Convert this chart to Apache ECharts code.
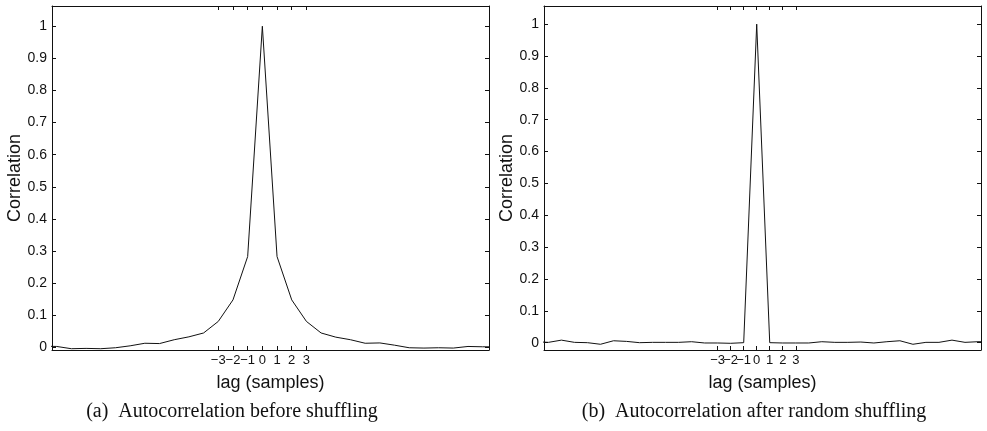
<!DOCTYPE html>
<html>
<head>
<meta charset="utf-8">
<script src="https://cdn.jsdelivr.net/npm/echarts@6/dist/echarts.min.js"></script>
<style>
  html, body { margin: 0; padding: 0; background: #fff; }
  #chart { width: 987px; height: 431px; }
</style>
</head>
<body>
<div id="chart"></div>
<script>
// (a) before shuffling
const lagsA = [-15, -14, -13, -12, -11, -10, -9, -8, -7, -6, -5, -4, -3, -2, -1, 0,
  1, 2, 3, 4, 5, 6, 7, 8, 9, 10, 11, 12, 13, 14, 15, 16]
const corrA = [0.004, 0.003, -0.004, -0.003, -0.004, -0.001, 0.005, 0.013, 0.012, 0.024, 0.033, 0.045, 0.081, 0.148, 0.283, 1,
  0.283, 0.148, 0.081, 0.045, 0.032, 0.024, 0.013, 0.014, 0.007, -0.001, -0.002, -0.001, -0.002, 0.003, 0.002, 0.002]

// (b) after random shuffling
const lagsB = [-17, -16, -15, -14, -13, -12, -11, -10, -9, -8, -7, -6, -5, -4, -3, -2, -1, 0,
  1, 2, 3, 4, 5, 6, 7, 8, 9, 10, 11, 12, 13, 14, 15, 16, 17, 18]
const corrB = [0.003, 0.001, 0.008, 0.001, 0.000, -0.005, 0.006, 0.004, 0.000, 0.001, 0.001, 0.001, 0.003, -0.001, -0.001, -0.002, 0.000, 1,
  0.000, -0.001, -0.001, -0.001, 0.003, 0.001, 0.001, 0.002, -0.001, 0.003, 0.006, -0.005, 0.001, 0.001, 0.008, 0.001, 0.003, 0.003]

const xTicks = [-3, -2, -1, 0, 1, 2, 3]
// labels are split over two axes so that crowded ones are not dropped
const xLabelsEven = [-2, 0, 2]
const xLabelsOdd = [-3, -1, 1, 3]
const yTicks = [0, 0.1, 0.2, 0.3, 0.4, 0.5, 0.6, 0.7, 0.8, 0.9, 1]

const captionA = '(a)  Autocorrelation before shuffling'
const captionB = '(b)  Autocorrelation after random shuffling'

const font = 'Liberation Sans'
const black = '#111'

function xFmt(v) {
  return v < 0 ? '\u2212' + (-v) : String(v)
}

function labelStyle(values) {
  return {
    show: !!values,
    customValues: values || [],
    formatter: xFmt,
    hideOverlap: false,
    margin: 4,
    color: black,
    fontFamily: font,
    fontSize: 13
  }
}

function makeX(gridIndex, min, max, position, labels, ticks) {
  return {
    type: 'value',
    gridIndex: gridIndex,
    position: position,
    min: min,
    max: max,
    axisLine: { show: ticks, onZero: false, lineStyle: { color: black, width: 1 } },
    axisTick: { show: ticks, inside: true, length: 4, customValues: xTicks, lineStyle: { color: black } },
    axisLabel: labelStyle(labels),
    splitLine: { show: false },
    name: position === 'bottom' && ticks ? 'lag (samples)' : '',
    nameLocation: 'middle',
    nameGap: 24,
    nameTextStyle: { color: black, fontFamily: font, fontSize: 18 }
  }
}

function makeY(gridIndex, min, max, position) {
  const main = position === 'left'
  return {
    type: 'value',
    gridIndex: gridIndex,
    position: position,
    min: min,
    max: max,
    axisLine: { show: true, onZero: false, lineStyle: { color: black, width: 1 } },
    axisTick: { show: true, inside: true, length: 4, customValues: yTicks, lineStyle: { color: black } },
    axisLabel: {
      show: main,
      customValues: yTicks,
      formatter: v => String(Math.round(v * 10) / 10),
      margin: 5,
      color: black,
      fontFamily: font,
      fontSize: 14
    },
    splitLine: { show: false },
    name: main ? 'Correlation' : '',
    nameLocation: 'middle',
    nameRotate: 90,
    nameGap: 26,
    nameTextStyle: { color: black, fontFamily: font, fontSize: 18 }
  }
}

const chart = echarts.init(document.getElementById('chart'), null, { renderer: 'canvas' })

chart.setOption({
  animation: false,
  backgroundColor: '#fff',
  grid: [
    { left: 52, top: 6, width: 437, height: 344 },
    { left: 544, top: 6, width: 437, height: 344 }
  ],
  xAxis: [
    makeX(0, -14.32, 15.43, 'bottom', xTicks, true),
    makeX(0, -14.32, 15.43, 'top', null, true),
    makeX(1, -16.34, 17.23, 'bottom', xLabelsEven, true),
    makeX(1, -16.34, 17.23, 'top', null, true),
    makeX(1, -16.34, 17.23, 'bottom', xLabelsOdd, false)
  ],
  yAxis: [
    makeY(0, -0.008, 1.063, 'left'),
    makeY(0, -0.008, 1.063, 'right'),
    makeY(1, -0.023, 1.057, 'left'),
    makeY(1, -0.023, 1.057, 'right')
  ],
  series: [
    {
      type: 'line',
      xAxisIndex: 0,
      yAxisIndex: 0,
      data: lagsA.map((l, i) => [l, corrA[i]]),
      showSymbol: false,
      clip: true,
      lineStyle: { color: black, width: 1 }
    },
    {
      type: 'line',
      xAxisIndex: 2,
      yAxisIndex: 2,
      data: lagsB.map((l, i) => [l, corrB[i]]),
      showSymbol: false,
      clip: true,
      lineStyle: { color: black, width: 1 }
    }
  ],
  graphic: [
    {
      type: 'text',
      x: 232,
      y: 402,
      style: { text: captionA, fill: black, font: '20px "Liberation Serif"', textAlign: 'center' }
    },
    {
      type: 'text',
      x: 754,
      y: 402,
      style: { text: captionB, fill: black, font: '20px "Liberation Serif"', textAlign: 'center' }
    }
  ]
})
</script>
</body>
</html>
